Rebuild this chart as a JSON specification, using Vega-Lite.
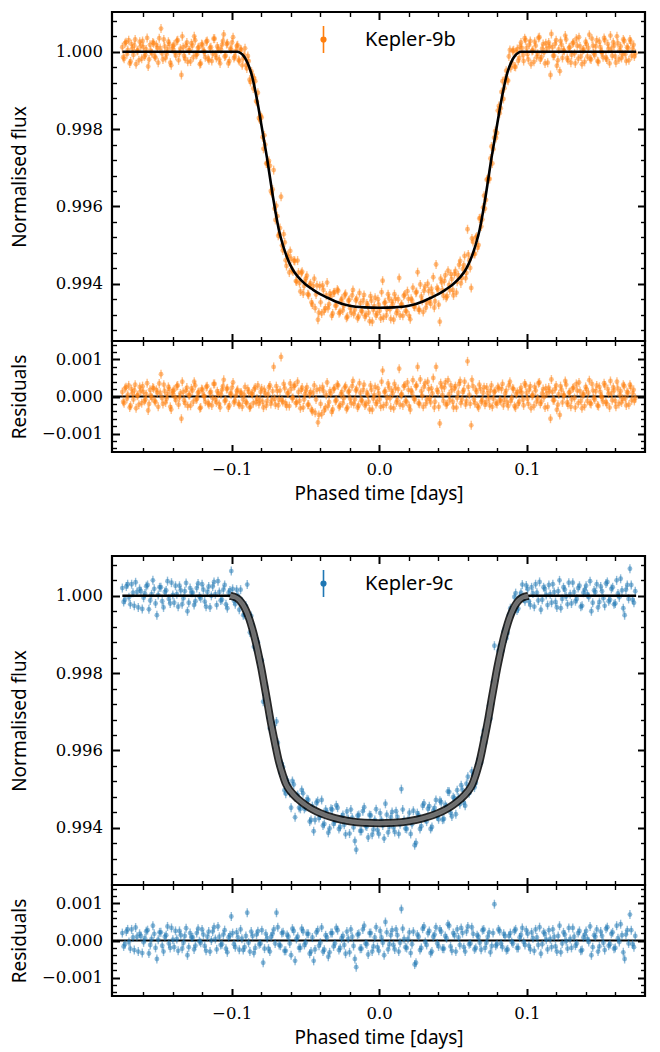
{
"$schema":"https://vega.github.io/schema/vega-lite/v6.json",
"background":"white",
"padding":{"left":8,"top":9,"right":10,"bottom":5},
"config":{
 "view":{"stroke":"black","strokeWidth":2.2},
 "axis":{"domain":false,"grid":false,"tickColor":"black","labelColor":"black","labelFont":"DejaVu Serif","labelFontSize":16.5,"titleFont":"Noto Sans","titleFontSize":19,"titleFontWeight":"normal","titleColor":"black","labelOverlap":false,"labelFlush":false,"labelBound":false},
 "legend":{"labelFont":"Noto Sans","labelFontSize":20,"labelColor":"black","padding":0}
},
"datasets":{
"z":[{"r":0}],
"mb":[{"t":-0.174,"m":1},{"t":-0.096,"m":1},{"t":-0.094,"m":0.99997},{"t":-0.092,"m":0.9999},{"t":-0.09,"m":0.99978},{"t":-0.088,"m":0.9996},{"t":-0.086,"m":0.99935},{"t":-0.084,"m":0.999},{"t":-0.082,"m":0.9986},{"t":-0.08,"m":0.99815},{"t":-0.078,"m":0.9977},{"t":-0.076,"m":0.99725},{"t":-0.074,"m":0.99675},{"t":-0.072,"m":0.99625},{"t":-0.07,"m":0.9958},{"t":-0.068,"m":0.9954},{"t":-0.066,"m":0.9951},{"t":-0.064,"m":0.99485},{"t":-0.062,"m":0.99464},{"t":-0.06,"m":0.99447},{"t":-0.058,"m":0.99433},{"t":-0.055,"m":0.99418},{"t":-0.05,"m":0.99399},{"t":-0.045,"m":0.99385},{"t":-0.04,"m":0.99373},{"t":-0.035,"m":0.99364},{"t":-0.03,"m":0.99355},{"t":-0.02,"m":0.99343},{"t":-0.01,"m":0.99339},{"t":0,"m":0.99338},{"t":0.01,"m":0.99339},{"t":0.02,"m":0.99343},{"t":0.03,"m":0.99355},{"t":0.035,"m":0.99364},{"t":0.04,"m":0.99373},{"t":0.045,"m":0.99385},{"t":0.05,"m":0.99399},{"t":0.055,"m":0.99418},{"t":0.058,"m":0.99433},{"t":0.06,"m":0.99447},{"t":0.062,"m":0.99464},{"t":0.064,"m":0.99485},{"t":0.066,"m":0.9951},{"t":0.068,"m":0.9954},{"t":0.07,"m":0.9958},{"t":0.072,"m":0.99625},{"t":0.074,"m":0.99675},{"t":0.076,"m":0.99725},{"t":0.078,"m":0.9977},{"t":0.08,"m":0.99815},{"t":0.082,"m":0.9986},{"t":0.084,"m":0.999},{"t":0.086,"m":0.99935},{"t":0.088,"m":0.9996},{"t":0.09,"m":0.99978},{"t":0.092,"m":0.9999},{"t":0.094,"m":0.99997},{"t":0.096,"m":1},{"t":0.174,"m":1}],
"mc":[{"t":-0.174,"m":1},{"t":-0.101,"m":1},{"t":-0.1,"m":0.99999},{"t":-0.098,"m":0.99997},{"t":-0.096,"m":0.99993},{"t":-0.094,"m":0.99986},{"t":-0.092,"m":0.99975},{"t":-0.09,"m":0.9996},{"t":-0.088,"m":0.9994},{"t":-0.086,"m":0.99915},{"t":-0.084,"m":0.99886},{"t":-0.082,"m":0.99852},{"t":-0.08,"m":0.99815},{"t":-0.078,"m":0.99773},{"t":-0.076,"m":0.9973},{"t":-0.074,"m":0.99685},{"t":-0.072,"m":0.99645},{"t":-0.07,"m":0.99607},{"t":-0.068,"m":0.99572},{"t":-0.066,"m":0.99545},{"t":-0.063,"m":0.99512},{"t":-0.06,"m":0.99494},{"t":-0.055,"m":0.99474},{"t":-0.05,"m":0.99459},{"t":-0.045,"m":0.99447},{"t":-0.04,"m":0.99438},{"t":-0.03,"m":0.99425},{"t":-0.02,"m":0.99417},{"t":-0.01,"m":0.99413},{"t":0,"m":0.99412},{"t":0.01,"m":0.99413},{"t":0.02,"m":0.99417},{"t":0.03,"m":0.99425},{"t":0.04,"m":0.99438},{"t":0.045,"m":0.99447},{"t":0.05,"m":0.99459},{"t":0.055,"m":0.99474},{"t":0.06,"m":0.99494},{"t":0.063,"m":0.99512},{"t":0.066,"m":0.99545},{"t":0.068,"m":0.99572},{"t":0.07,"m":0.99607},{"t":0.072,"m":0.99645},{"t":0.074,"m":0.99685},{"t":0.076,"m":0.9973},{"t":0.078,"m":0.99773},{"t":0.08,"m":0.99815},{"t":0.082,"m":0.99852},{"t":0.084,"m":0.99886},{"t":0.086,"m":0.99915},{"t":0.088,"m":0.9994},{"t":0.09,"m":0.9996},{"t":0.092,"m":0.99975},{"t":0.094,"m":0.99986},{"t":0.096,"m":0.99993},{"t":0.098,"m":0.99997},{"t":0.1,"m":0.99999},{"t":0.101,"m":1},{"t":0.174,"m":1}],
"b":[
{"t":-0.174,"f":1.00012,"r":0.00012},{"t":-0.1728,"f":0.99982,"r":-0.00018},{"t":-0.1715,"f":1.00025,"r":0.00025},{"t":-0.1703,"f":1.00005,"r":0.00005},{"t":-0.169,"f":0.9997,"r":-0.0003},{"t":-0.1678,"f":1.0002,"r":0.0002},{"t":-0.1665,"f":0.99992,"r":-0.00008},{"t":-0.1653,"f":1.00032,"r":0.00032},{"t":-0.164,"f":1.00002,"r":0.00002},{"t":-0.1628,"f":0.99978,"r":-0.00022},{"t":-0.1615,"f":1.00015,"r":0.00015},{"t":-0.1603,"f":1.00028,"r":0.00028},{"t":-0.159,"f":0.99988,"r":-0.00012},{"t":-0.1578,"f":1.00006,"r":0.00006},{"t":-0.1565,"f":0.99962,"r":-0.00038},{"t":-0.1553,"f":1.00018,"r":0.00018},{"t":-0.154,"f":0.99996,"r":-0.00004},{"t":-0.1528,"f":1.00022,"r":0.00022},{"t":-0.1515,"f":0.99985,"r":-0.00015},{"t":-0.1503,"f":1.0001,"r":0.0001},{"t":-0.149,"f":1.00035,"r":0.00035},{"t":-0.1478,"f":1.0006,"r":0.0006},{"t":-0.1465,"f":0.9998,"r":-0.0002},{"t":-0.1453,"f":1.00014,"r":0.00014},{"t":-0.144,"f":0.99994,"r":-0.00006},{"t":-0.1428,"f":1.00026,"r":0.00026},{"t":-0.1415,"f":0.99972,"r":-0.00028},{"t":-0.1403,"f":1.00008,"r":0.00008},{"t":-0.139,"f":1.00018,"r":0.00018},{"t":-0.1378,"f":0.9999,"r":-0.0001},{"t":-0.1365,"f":1.0003,"r":0.0003},{"t":-0.1353,"f":0.99997,"r":-0.00003},{"t":-0.134,"f":0.9994,"r":-0.0006},{"t":-0.1328,"f":1.00012,"r":0.00012},{"t":-0.1315,"f":0.99982,"r":-0.00018},{"t":-0.1303,"f":1.00024,"r":0.00024},{"t":-0.129,"f":1.00004,"r":0.00004},{"t":-0.1278,"f":0.99975,"r":-0.00025},{"t":-0.1265,"f":1.00016,"r":0.00016},{"t":-0.1253,"f":1.0004,"r":0.0004},{"t":-0.124,"f":0.99992,"r":-0.00008},{"t":-0.1228,"f":1.0001,"r":0.0001},{"t":-0.1215,"f":0.99968,"r":-0.00032},{"t":-0.1203,"f":1.0002,"r":0.0002},{"t":-0.119,"f":1.00002,"r":0.00002},{"t":-0.1178,"f":0.99986,"r":-0.00014},{"t":-0.1165,"f":1.00028,"r":0.00028},{"t":-0.1153,"f":0.99978,"r":-0.00022},{"t":-0.114,"f":1.00012,"r":0.00012},{"t":-0.1128,"f":0.99995,"r":-0.00005},{"t":-0.1115,"f":1.00034,"r":0.00034},{"t":-0.1103,"f":0.99984,"r":-0.00016},{"t":-0.109,"f":1.00008,"r":0.00008},{"t":-0.1078,"f":0.9997,"r":-0.0003},{"t":-0.1065,"f":1.00018,"r":0.00018},{"t":-0.1053,"f":1.00045,"r":0.00045},{"t":-0.104,"f":0.9999,"r":-0.0001},{"t":-0.1028,"f":1.00022,"r":0.00022},{"t":-0.1015,"f":0.99976,"r":-0.00024},{"t":-0.1003,"f":1.00006,"r":0.00006},{"t":-0.099,"f":1.00038,"r":0.00038},{"t":-0.0978,"f":0.99988,"r":-0.00012},{"t":-0.0965,"f":1.00015,"r":0.00015},
{"t":-0.0953,"f":0.99979,"r":-0.0002},{"t":-0.094,"f":1.00007,"r":0.0001},{"t":-0.0928,"f":0.99965,"r":-0.00028},{"t":-0.0915,"f":0.99992,"r":0.00005},{"t":-0.0903,"f":0.99965,"r":-0.00015},{"t":-0.089,"f":0.99989,"r":0.0002},{"t":-0.0878,"f":0.99928,"r":-0.0003},{"t":-0.0865,"f":0.99949,"r":0.00008},{"t":-0.0853,"f":0.99905,"r":-0.00018},{"t":-0.084,"f":0.99924,"r":0.00024},{"t":-0.0828,"f":0.9987,"r":-0.00006},{"t":-0.0815,"f":0.99829,"r":-0.0002},{"t":-0.0803,"f":0.99834,"r":0.00012},{"t":-0.079,"f":0.99779,"r":-0.00014},{"t":-0.0778,"f":0.99784,"r":0.00018},{"t":-0.0765,"f":0.99711,"r":-0.00025},{"t":-0.0753,"f":0.99714,"r":0.00006},{"t":-0.074,"f":0.99705,"r":0.0003},{"t":-0.0728,"f":0.99635,"r":-0.0001},{"t":-0.0715,"f":0.99694,"r":0.0008},{"t":-0.0703,"f":0.99565,"r":-0.00022},{"t":-0.069,"f":0.99575,"r":0.00015},{"t":-0.0678,"f":0.99529,"r":-0.00008},{"t":-0.0665,"f":0.99625,"r":0.00107},{"t":-0.0653,"f":0.99486,"r":-0.00015},{"t":-0.064,"f":0.99507,"r":0.00022},{"t":-0.0628,"f":0.99446,"r":-0.00026},{"t":-0.0615,"f":0.9947,"r":0.0001},{"t":-0.0603,"f":0.99485,"r":0.00035},{"t":-0.059,"f":0.99435,"r":-0.00005},{"t":-0.0578,"f":0.9946,"r":0.00028},{"t":-0.0565,"f":0.99407,"r":-0.00018},{"t":-0.0553,"f":0.9946,"r":0.0004},{"t":-0.054,"f":0.99402,"r":-0.00012},{"t":-0.0528,"f":0.99428,"r":0.00018},{"t":-0.0515,"f":0.99375,"r":-0.0003},{"t":-0.0503,"f":0.99406,"r":0.00006},{"t":-0.049,"f":0.99421,"r":0.00025},{"t":-0.0478,"f":0.99371,"r":-0.00022},{"t":-0.0465,"f":0.99401,"r":0.00012},{"t":-0.0453,"f":0.99346,"r":-0.0004},{"t":-0.044,"f":0.99413,"r":0.0003},{"t":-0.0428,"f":0.99372,"r":-0.00008},{"t":-0.0415,"f":0.99307,"r":-0.0007},{"t":-0.0403,"f":0.99394,"r":0.0002},{"t":-0.039,"f":0.99323,"r":-0.00048},{"t":-0.0378,"f":0.99384,"r":0.00015},{"t":-0.0365,"f":0.99337,"r":-0.0003},{"t":-0.0353,"f":0.99403,"r":0.00038},{"t":-0.034,"f":0.99347,"r":-0.00015},{"t":-0.0328,"f":0.99368,"r":0.00008},{"t":-0.0315,"f":0.99323,"r":-0.00035},{"t":-0.0303,"f":0.99378,"r":0.00022},{"t":-0.029,"f":0.99344,"r":-0.0001},{"t":-0.0278,"f":0.99382,"r":0.0003},{"t":-0.0265,"f":0.99327,"r":-0.00024},{"t":-0.0253,"f":0.99361,"r":0.00012},{"t":-0.024,"f":0.99343,"r":-0.00005},{"t":-0.0228,"f":0.99374,"r":0.00028},{"t":-0.0215,"f":0.99315,"r":-0.0003},{"t":-0.0203,"f":0.99358,"r":0.00015},{"t":-0.019,"f":0.99325,"r":-0.00018},{"t":-0.0178,"f":0.99384,"r":0.00042},{"t":-0.0165,"f":0.99333,"r":-0.00008},{"t":-0.0153,"f":0.99361,"r":0.0002},{"t":-0.014,"f":0.99315,"r":-0.00025},{"t":-0.0128,"f":0.9935,"r":0.0001},{"t":-0.0115,"f":0.99328,"r":-0.00012},{"t":-0.0103,"f":0.99371,"r":0.00032},{"t":-0.009,"f":0.99319,"r":-0.0002},{"t":-0.0078,"f":0.99344,"r":0.00005},{"t":-0.0065,"f":0.99303,"r":-0.00035},{"t":-0.0053,"f":0.99356,"r":0.00018},{"t":-0.004,"f":0.99332,"r":-0.00006},{"t":-0.0028,"f":0.99364,"r":0.00026},{"t":-0.0015,"f":0.99323,"r":-0.00015},{"t":-0.0003,"f":0.99346,"r":0.00008},{"t":0.001,"f":0.9931,"r":-0.00028},{"t":0.0023,"f":0.99408,"r":0.0007},{"t":0.0035,"f":0.9935,"r":0.00012},{"t":0.0048,"f":0.99318,"r":-0.0002},{"t":0.006,"f":0.99373,"r":0.00035},{"t":0.0073,"f":0.99334,"r":-0.00005},{"t":0.0085,"f":0.99355,"r":0.00016},{"t":0.0098,"f":0.99307,"r":-0.00032},{"t":0.011,"f":0.99361,"r":0.00022},{"t":0.0123,"f":0.9933,"r":-0.0001},{"t":0.0135,"f":0.99415,"r":0.00075},{"t":0.0148,"f":0.99345,"r":0.00004},{"t":0.016,"f":0.99317,"r":-0.00024},{"t":0.0173,"f":0.99372,"r":0.0003},{"t":0.0185,"f":0.99328,"r":-0.00014},{"t":0.0198,"f":0.99361,"r":0.00018},{"t":0.021,"f":0.99308,"r":-0.00036},{"t":0.0223,"f":0.99356,"r":0.0001},{"t":0.0235,"f":0.99341,"r":-0.00006},{"t":0.0248,"f":0.99377,"r":0.00028},{"t":0.026,"f":0.9943,"r":0.0008},{"t":0.0273,"f":0.99332,"r":-0.0002},{"t":0.0285,"f":0.99367,"r":0.00014},{"t":0.0298,"f":0.99327,"r":-0.00028},{"t":0.031,"f":0.99393,"r":0.00036},{"t":0.0323,"f":0.99351,"r":-0.00008},{"t":0.0335,"f":0.99381,"r":0.0002},{"t":0.0348,"f":0.99348,"r":-0.00016},{"t":0.036,"f":0.99374,"r":0.00008},{"t":0.0373,"f":0.99338,"r":-0.0003},{"t":0.0385,"f":0.9945,"r":0.0008},{"t":0.0398,"f":0.99385,"r":0.00012},{"t":0.041,"f":0.99302,"r":-0.00073},{"t":0.0423,"f":0.99403,"r":0.00025},{"t":0.0435,"f":0.99369,"r":-0.00012},{"t":0.0448,"f":0.99422,"r":0.00038},{"t":0.046,"f":0.99368,"r":-0.0002},{"t":0.0473,"f":0.99397,"r":0.00006},{"t":0.0485,"f":0.99425,"r":0.0003},{"t":0.0498,"f":0.99384,"r":-0.00014},{"t":0.051,"f":0.99425,"r":0.00022},{"t":0.0523,"f":0.99377,"r":-0.0003},{"t":0.0535,"f":0.99422,"r":0.0001},{"t":0.0548,"f":0.99459,"r":0.00042},{"t":0.056,"f":0.99415,"r":-0.00008},{"t":0.0573,"f":0.99448,"r":0.00018},{"t":0.0585,"f":0.99414,"r":-0.00022},{"t":0.0598,"f":0.99541,"r":0.00095},{"t":0.061,"f":0.9946,"r":0.00005},{"t":0.0623,"f":0.99389,"r":-0.00078},{"t":0.0635,"f":0.99508,"r":0.00028},{"t":0.0648,"f":0.99477,"r":-0.00018},{"t":0.066,"f":0.99522,"r":0.00012},{"t":0.0673,"f":0.995,"r":-0.0003},{"t":0.0685,"f":0.9957,"r":0.0002},{"t":0.0698,"f":0.99566,"r":-0.0001},{"t":0.071,"f":0.99628,"r":0.00025},{"t":0.0723,"f":0.99617,"r":-0.00016},{"t":0.0735,"f":0.99671,"r":0.00008},{"t":0.0748,"f":0.99671,"r":-0.00024},{"t":0.076,"f":0.99755,"r":0.0003},{"t":0.0773,"f":0.99748,"r":-0.00006},{"t":0.0785,"f":0.99795,"r":0.00014},{"t":0.0798,"f":0.9979,"r":-0.0002},{"t":0.081,"f":0.9986,"r":0.00022},{"t":0.0823,"f":0.99854,"r":-0.00012},{"t":0.0835,"f":0.99924,"r":0.00034},{"t":0.0848,"f":0.99906,"r":-0.00008},{"t":0.086,"f":0.99951,"r":0.00016},{"t":0.0873,"f":0.99925,"r":-0.00026},{"t":0.0885,"f":1.00005,"r":0.0004},{"t":0.0898,"f":0.99972,"r":-0.00004},{"t":0.091,"f":1.00004,"r":0.0002},{"t":0.0923,"f":0.99961,"r":-0.0003},{"t":0.0935,"f":1.00007,"r":0.00012},{"t":0.0948,"f":0.99984,"r":-0.00014},{"t":0.096,"f":1.00024,"r":0.00024},
{"t":0.0973,"f":0.99992,"r":-0.00008},{"t":0.0985,"f":1.00035,"r":0.00035},{"t":0.0998,"f":1.0001,"r":0.0001},{"t":0.101,"f":0.9998,"r":-0.0002},{"t":0.1023,"f":1.00028,"r":0.00028},{"t":0.1035,"f":1.00002,"r":0.00002},{"t":0.1048,"f":0.99974,"r":-0.00026},{"t":0.106,"f":1.00016,"r":0.00016},{"t":0.1073,"f":0.99995,"r":-0.00005},{"t":0.1085,"f":1.00038,"r":0.00038},{"t":0.1098,"f":0.99986,"r":-0.00014},{"t":0.111,"f":1.0002,"r":0.0002},{"t":0.1123,"f":0.9997,"r":-0.0003},{"t":0.1135,"f":1.00008,"r":0.00008},{"t":0.1148,"f":1.00024,"r":0.00024},{"t":0.116,"f":0.9994,"r":-0.0006},{"t":0.1173,"f":1.00012,"r":0.00012},{"t":0.1185,"f":0.9999,"r":-0.0001},{"t":0.1198,"f":1.0003,"r":0.0003},{"t":0.121,"f":0.99978,"r":-0.00022},{"t":0.1223,"f":0.9995,"r":-0.0005},{"t":0.1235,"f":1.00018,"r":0.00018},{"t":0.1248,"f":1.00004,"r":0.00004},{"t":0.126,"f":1.00042,"r":0.00042},{"t":0.1273,"f":0.99984,"r":-0.00016},{"t":0.1285,"f":1.0001,"r":0.0001},{"t":0.1298,"f":0.99972,"r":-0.00028},{"t":0.131,"f":1.00022,"r":0.00022},{"t":0.1323,"f":0.99996,"r":-0.00004},{"t":0.1335,"f":1.00034,"r":0.00034},{"t":0.1348,"f":0.99982,"r":-0.00018},{"t":0.136,"f":1.00014,"r":0.00014},{"t":0.1373,"f":0.99968,"r":-0.00032},{"t":0.1385,"f":1.00006,"r":0.00006},{"t":0.1398,"f":1.00026,"r":0.00026},{"t":0.141,"f":0.99988,"r":-0.00012},{"t":0.1423,"f":1.00044,"r":0.00044},{"t":0.1435,"f":0.9998,"r":-0.0002},{"t":0.1448,"f":1.00016,"r":0.00016},{"t":0.146,"f":0.99992,"r":-0.00008},{"t":0.1473,"f":1.0003,"r":0.0003},{"t":0.1485,"f":0.99974,"r":-0.00026},{"t":0.1498,"f":1.00012,"r":0.00012},{"t":0.151,"f":0.99998,"r":-0.00002},{"t":0.1523,"f":1.00036,"r":0.00036},{"t":0.1535,"f":0.99985,"r":-0.00015},{"t":0.1548,"f":1.0002,"r":0.0002},{"t":0.156,"f":0.9997,"r":-0.0003},{"t":0.1573,"f":1.00008,"r":0.00008},{"t":0.1585,"f":1.00025,"r":0.00025},{"t":0.1598,"f":0.99988,"r":-0.00012},{"t":0.161,"f":1.0004,"r":0.0004},{"t":0.1623,"f":0.9998,"r":-0.0002},{"t":0.1635,"f":1.00014,"r":0.00014},{"t":0.1648,"f":0.99994,"r":-0.00006},{"t":0.166,"f":1.00028,"r":0.00028},{"t":0.1673,"f":0.99976,"r":-0.00024},{"t":0.1685,"f":1.0001,"r":0.0001},{"t":0.1698,"f":1.00032,"r":0.00032},{"t":0.171,"f":0.9999,"r":-0.0001},{"t":0.1723,"f":1.00018,"r":0.00018},{"t":0.1735,"f":0.99996,"r":-0.00004},
{"t":-0.1734,"f":0.99986,"r":-0.00014},{"t":-0.1722,"f":1.00022,"r":0.00022},{"t":-0.1709,"f":0.99994,"r":-0.00006},{"t":-0.1697,"f":1.0003,"r":0.0003},{"t":-0.1684,"f":0.99975,"r":-0.00025},{"t":-0.1672,"f":1.00008,"r":0.00008},{"t":-0.1659,"f":1.00016,"r":0.00016},{"t":-0.1647,"f":0.99968,"r":-0.00032},{"t":-0.1634,"f":1.00004,"r":0.00004},{"t":-0.1622,"f":1.00026,"r":0.00026},{"t":-0.1609,"f":0.99982,"r":-0.00018},{"t":-0.1597,"f":1.00012,"r":0.00012},{"t":-0.1584,"f":0.99992,"r":-0.00008},{"t":-0.1572,"f":1.00036,"r":0.00036},{"t":-0.1559,"f":0.9998,"r":-0.0002},{"t":-0.1547,"f":1.00002,"r":0.00002},{"t":-0.1534,"f":1.00024,"r":0.00024},{"t":-0.1522,"f":0.99988,"r":-0.00012},{"t":-0.1509,"f":1.00018,"r":0.00018},{"t":-0.1497,"f":0.99972,"r":-0.00028},{"t":-0.1484,"f":1.0001,"r":0.0001},{"t":-0.1472,"f":0.99996,"r":-0.00004},{"t":-0.1459,"f":1.00032,"r":0.00032},{"t":-0.1447,"f":0.99984,"r":-0.00016},{"t":-0.1434,"f":1.00006,"r":0.00006},{"t":-0.1422,"f":1.0002,"r":0.0002},{"t":-0.1409,"f":0.99965,"r":-0.00035},{"t":-0.1397,"f":1.00014,"r":0.00014},{"t":-0.1384,"f":0.99998,"r":-0.00002},{"t":-0.1372,"f":1.00028,"r":0.00028},{"t":-0.1359,"f":0.99978,"r":-0.00022},{"t":-0.1347,"f":1.00008,"r":0.00008},{"t":-0.1334,"f":1.0004,"r":0.0004},{"t":-0.1322,"f":0.9999,"r":-0.0001},{"t":-0.1309,"f":1.00016,"r":0.00016},{"t":-0.1297,"f":0.99974,"r":-0.00026},{"t":-0.1284,"f":1.00004,"r":0.00004},{"t":-0.1272,"f":1.00022,"r":0.00022},{"t":-0.1259,"f":0.99986,"r":-0.00014},{"t":-0.1247,"f":1.0003,"r":0.0003},{"t":-0.1234,"f":0.99994,"r":-0.00006},{"t":-0.1222,"f":1.00012,"r":0.00012},{"t":-0.1209,"f":0.9997,"r":-0.0003},{"t":-0.1197,"f":1.00018,"r":0.00018},{"t":-0.1184,"f":1,"r":0},{"t":-0.1172,"f":1.00026,"r":0.00026},{"t":-0.1159,"f":0.99982,"r":-0.00018},{"t":-0.1147,"f":1.0001,"r":0.0001},{"t":-0.1134,"f":0.99976,"r":-0.00024},{"t":-0.1122,"f":1.00034,"r":0.00034},{"t":-0.1109,"f":0.99992,"r":-0.00008},{"t":-0.1097,"f":1.00014,"r":0.00014},{"t":-0.1084,"f":0.9998,"r":-0.0002},{"t":-0.1072,"f":1.00006,"r":0.00006},{"t":-0.1059,"f":1.00028,"r":0.00028},{"t":-0.1047,"f":0.99988,"r":-0.00012},{"t":-0.1034,"f":1.0002,"r":0.0002},{"t":-0.1022,"f":0.9997,"r":-0.0003},{"t":-0.1009,"f":1.00008,"r":0.00008},{"t":-0.0997,"f":1.00024,"r":0.00024},{"t":-0.0984,"f":0.99984,"r":-0.00016},{"t":-0.0972,"f":1.00002,"r":0.00002},
{"t":-0.0959,"f":1.00017,"r":0.00018},{"t":-0.0947,"f":0.99976,"r":-0.00022},{"t":-0.0934,"f":1.00005,"r":0.0001},{"t":-0.0922,"f":0.99983,"r":-0.00008},{"t":-0.0909,"f":1.00009,"r":0.00026},{"t":-0.0897,"f":0.99957,"r":-0.00018},{"t":-0.0884,"f":0.99976,"r":0.00012},{"t":-0.0872,"f":0.99922,"r":-0.00028},{"t":-0.0859,"f":0.99939,"r":0.00006},{"t":-0.0847,"f":0.99932,"r":0.0002},{"t":-0.0834,"f":0.99873,"r":-0.00015},{"t":-0.0822,"f":0.99894,"r":0.0003},{"t":-0.0809,"f":0.99825,"r":-0.0001},{"t":-0.0797,"f":0.9983,"r":0.00022},{"t":-0.0784,"f":0.99749,"r":-0.0003},{"t":-0.0772,"f":0.9976,"r":0.00008},{"t":-0.0759,"f":0.99711,"r":-0.00012},{"t":-0.0747,"f":0.99718,"r":0.00025},{"t":-0.0734,"f":0.9964,"r":-0.0002},{"t":-0.0722,"f":0.99644,"r":0.00014},{"t":-0.0709,"f":0.99594,"r":-0.00006},{"t":-0.0697,"f":0.99602,"r":0.00028},{"t":-0.0684,"f":0.99524,"r":-0.00024},{"t":-0.0672,"f":0.99544,"r":0.00016},{"t":-0.0659,"f":0.99499,"r":-0.0001},{"t":-0.0647,"f":0.99528,"r":0.00034},{"t":-0.0634,"f":0.99461,"r":-0.00018},{"t":-0.0622,"f":0.99474,"r":0.00008},{"t":-0.0609,"f":0.99429,"r":-0.00026},{"t":-0.0597,"f":0.99465,"r":0.0002},{"t":-0.0584,"f":0.99432,"r":-0.00004},{"t":-0.0572,"f":0.99459,"r":0.0003},{"t":-0.0559,"f":0.99406,"r":-0.00016},{"t":-0.0547,"f":0.99429,"r":0.00012},{"t":-0.0534,"f":0.9938,"r":-0.00032},{"t":-0.0522,"f":0.99431,"r":0.00024},{"t":-0.0509,"f":0.99394,"r":-0.00008},{"t":-0.0497,"f":0.99414,"r":0.00016},{"t":-0.0484,"f":0.99373,"r":-0.00022},{"t":-0.0472,"f":0.99397,"r":0.00006},{"t":-0.0459,"f":0.99352,"r":-0.00036},{"t":-0.0447,"f":0.99394,"r":0.0001},{"t":-0.0434,"f":0.99337,"r":-0.00044},{"t":-0.0422,"f":0.99396,"r":0.00018},{"t":-0.0409,"f":0.99325,"r":-0.0005},{"t":-0.0397,"f":0.99352,"r":-0.0002},{"t":-0.0384,"f":0.99396,"r":0.00026},{"t":-0.0372,"f":0.9933,"r":-0.00038},{"t":-0.0359,"f":0.9937,"r":0.00004},{"t":-0.0347,"f":0.99337,"r":-0.00026},{"t":-0.0334,"f":0.99375,"r":0.00014},{"t":-0.0322,"f":0.99317,"r":-0.00042},{"t":-0.0309,"f":0.99377,"r":0.0002},{"t":-0.0297,"f":0.99343,"r":-0.00012},{"t":-0.0284,"f":0.99385,"r":0.00032},{"t":-0.0272,"f":0.99324,"r":-0.00028},{"t":-0.0259,"f":0.99356,"r":0.00006},{"t":-0.0247,"f":0.99331,"r":-0.00018},{"t":-0.0234,"f":0.99371,"r":0.00024},{"t":-0.0222,"f":0.99312,"r":-0.00034},{"t":-0.0209,"f":0.99356,"r":0.00012},{"t":-0.0197,"f":0.99337,"r":-0.00006},{"t":-0.0184,"f":0.9937,"r":0.00028},{"t":-0.0172,"f":0.99322,"r":-0.0002},{"t":-0.0159,"f":0.99357,"r":0.00016},{"t":-0.0147,"f":0.99311,"r":-0.0003},{"t":-0.0134,"f":0.99376,"r":0.00036},{"t":-0.0122,"f":0.9933,"r":-0.0001},{"t":-0.0109,"f":0.99357,"r":0.00018},{"t":-0.0097,"f":0.99315,"r":-0.00024},{"t":-0.0084,"f":0.99349,"r":0.0001},{"t":-0.0072,"f":0.99325,"r":-0.00014},{"t":-0.0059,"f":0.99368,"r":0.0003},{"t":-0.0047,"f":0.99302,"r":-0.00036},{"t":-0.0034,"f":0.99342,"r":0.00004},{"t":-0.0022,"f":0.99318,"r":-0.0002},{"t":-0.0009,"f":0.9936,"r":0.00022},{"t":0.0003,"f":0.9933,"r":-0.00008},{"t":0.0016,"f":0.99378,"r":0.0004},{"t":0.0028,"f":0.99312,"r":-0.00026},{"t":0.0041,"f":0.99352,"r":0.00014},{"t":0.0053,"f":0.99334,"r":-0.00004},{"t":0.0066,"f":0.99362,"r":0.00024},{"t":0.0078,"f":0.99309,"r":-0.0003},{"t":0.0091,"f":0.99347,"r":0.00008},{"t":0.0103,"f":0.99373,"r":0.00034},{"t":0.0116,"f":0.99324,"r":-0.00016},{"t":0.0128,"f":0.9936,"r":0.0002},{"t":0.0141,"f":0.99318,"r":-0.00022},{"t":0.0153,"f":0.99347,"r":0.00006},{"t":0.0166,"f":0.99369,"r":0.00028},{"t":0.0178,"f":0.9933,"r":-0.00012},{"t":0.0191,"f":0.99381,"r":0.00038},{"t":0.0203,"f":0.99317,"r":-0.00026},{"t":0.0216,"f":0.99361,"r":0.00016},{"t":0.0228,"f":0.9939,"r":0.00044},{"t":0.0241,"f":0.9934,"r":-0.00008},{"t":0.0253,"f":0.99379,"r":0.0003},{"t":0.0266,"f":0.99333,"r":-0.00018},{"t":0.0278,"f":0.99398,"r":0.00046},{"t":0.0291,"f":0.99356,"r":0.00002},{"t":0.0303,"f":0.99382,"r":0.00026},{"t":0.0316,"f":0.99338,"r":-0.0002},{"t":0.0328,"f":0.994,"r":0.0004},{"t":0.0341,"f":0.99356,"r":-0.00006},{"t":0.0353,"f":0.99387,"r":0.00022},{"t":0.0366,"f":0.99417,"r":0.0005},{"t":0.0378,"f":0.99355,"r":-0.00014},{"t":0.0391,"f":0.99389,"r":0.00018},{"t":0.0403,"f":0.99346,"r":-0.00028},{"t":0.0416,"f":0.99413,"r":0.00036},{"t":0.0428,"f":0.99384,"r":0.00004},{"t":0.0441,"f":0.99407,"r":0.00024},{"t":0.0453,"f":0.99364,"r":-0.00022},{"t":0.0466,"f":0.99434,"r":0.00044},{"t":0.0478,"f":0.99383,"r":-0.0001},{"t":0.0491,"f":0.99412,"r":0.00016},{"t":0.0503,"f":0.9937,"r":-0.0003},{"t":0.0516,"f":0.99433,"r":0.00028},{"t":0.0528,"f":0.99405,"r":-0.00004},{"t":0.0541,"f":0.99449,"r":0.00034},{"t":0.0553,"f":0.99401,"r":-0.00018},{"t":0.0566,"f":0.99438,"r":0.00012},{"t":0.0578,"f":0.99472,"r":0.0004},{"t":0.0591,"f":0.99428,"r":-0.00012},{"t":0.0603,"f":0.99476,"r":0.00026},{"t":0.0616,"f":0.99441,"r":-0.0002},{"t":0.0628,"f":0.99517,"r":0.00045},{"t":0.0641,"f":0.99478,"r":-0.00008},{"t":0.0653,"f":0.99519,"r":0.00018},{"t":0.0666,"f":0.99493,"r":-0.00026},{"t":0.0678,"f":0.99569,"r":0.00032},{"t":0.0691,"f":0.99548,"r":-0.00014},{"t":0.0703,"f":0.99597,"r":0.0001},{"t":0.0716,"f":0.99594,"r":-0.00022},{"t":0.0728,"f":0.99669,"r":0.00024},{"t":0.0741,"f":0.99672,"r":-0.00006},{"t":0.0753,"f":0.99724,"r":0.00016},{"t":0.0766,"f":0.99711,"r":-0.00028},{"t":0.0778,"f":0.99778,"r":0.00012},{"t":0.0791,"f":0.99777,"r":-0.00018},{"t":0.0803,"f":0.99848,"r":0.00026},{"t":0.0816,"f":0.99841,"r":-0.0001},{"t":0.0828,"f":0.99896,"r":0.0002},{"t":0.0841,"f":0.99878,"r":-0.00024},{"t":0.0853,"f":0.99931,"r":0.00008},{"t":0.0866,"f":0.99927,"r":-0.00016},{"t":0.0878,"f":0.99988,"r":0.0003},{"t":0.0891,"f":0.99958,"r":-0.00012},{"t":0.0903,"f":1.00002,"r":0.00022},{"t":0.0916,"f":0.99962,"r":-0.00026},{"t":0.0928,"f":0.99999,"r":0.00006},{"t":0.0941,"f":0.99977,"r":-0.0002},{"t":0.0953,"f":1.00013,"r":0.00014},
{"t":0.0966,"f":1.0001,"r":0.0001},{"t":0.0978,"f":0.99976,"r":-0.00024},{"t":0.0991,"f":1.0003,"r":0.0003},{"t":0.1003,"f":0.99994,"r":-0.00006},{"t":0.1016,"f":1.00018,"r":0.00018},{"t":0.1028,"f":0.99968,"r":-0.00032},{"t":0.1041,"f":1.00004,"r":0.00004},{"t":0.1053,"f":1.00026,"r":0.00026},{"t":0.1066,"f":0.99986,"r":-0.00014},{"t":0.1078,"f":1.00036,"r":0.00036},{"t":0.1091,"f":0.9998,"r":-0.0002},{"t":0.1103,"f":1.00008,"r":0.00008},{"t":0.1116,"f":0.99998,"r":-0.00002},{"t":0.1128,"f":1.00022,"r":0.00022},{"t":0.1141,"f":0.99972,"r":-0.00028},{"t":0.1153,"f":1.00014,"r":0.00014},{"t":0.1166,"f":1.00046,"r":0.00046},{"t":0.1178,"f":0.9999,"r":-0.0001},{"t":0.1191,"f":1.0002,"r":0.0002},{"t":0.1203,"f":0.99964,"r":-0.00036},{"t":0.1216,"f":1.00006,"r":0.00006},{"t":0.1228,"f":1.00028,"r":0.00028},{"t":0.1241,"f":0.99984,"r":-0.00016},{"t":0.1253,"f":1.00002,"r":0.00002},{"t":0.1266,"f":1.00032,"r":0.00032},{"t":0.1278,"f":0.99978,"r":-0.00022},{"t":0.1291,"f":1.00012,"r":0.00012},{"t":0.1303,"f":0.99992,"r":-0.00008},{"t":0.1316,"f":1.00024,"r":0.00024},{"t":0.1328,"f":0.9997,"r":-0.0003},{"t":0.1341,"f":1.00016,"r":0.00016},{"t":0.1353,"f":1.00038,"r":0.00038},{"t":0.1366,"f":0.99988,"r":-0.00012},{"t":0.1378,"f":1.00004,"r":0.00004},{"t":0.1391,"f":0.99974,"r":-0.00026},{"t":0.1403,"f":1.0002,"r":0.0002},{"t":0.1416,"f":1.0001,"r":0.0001},{"t":0.1428,"f":0.99982,"r":-0.00018},{"t":0.1441,"f":1.00034,"r":0.00034},{"t":0.1453,"f":0.99996,"r":-0.00004},{"t":0.1466,"f":1.00014,"r":0.00014},{"t":0.1478,"f":0.99976,"r":-0.00024},{"t":0.1491,"f":1.00026,"r":0.00026},{"t":0.1503,"f":1,"r":0},{"t":0.1516,"f":0.99986,"r":-0.00014},{"t":0.1528,"f":1.0003,"r":0.0003},{"t":0.1541,"f":0.9998,"r":-0.0002},{"t":0.1553,"f":1.00008,"r":0.00008},{"t":0.1566,"f":1.00042,"r":0.00042},{"t":0.1578,"f":0.9999,"r":-0.0001},{"t":0.1591,"f":1.00016,"r":0.00016},{"t":0.1603,"f":0.99972,"r":-0.00028},{"t":0.1616,"f":1.00022,"r":0.00022},{"t":0.1628,"f":1.00004,"r":0.00004},{"t":0.1641,"f":0.99984,"r":-0.00016},{"t":0.1653,"f":1.00032,"r":0.00032},{"t":0.1666,"f":0.99994,"r":-0.00006},{"t":0.1678,"f":1.00012,"r":0.00012},{"t":0.1691,"f":0.99978,"r":-0.00022},{"t":0.1703,"f":1.00026,"r":0.00026},{"t":0.1716,"f":1.00008,"r":0.00008},{"t":0.1728,"f":0.99988,"r":-0.00012}
],
"c":[
{"t":-0.174,"f":1.0002,"r":0.0002},{"t":-0.1722,"f":0.9999,"r":-0.0001},{"t":-0.1704,"f":1.0003,"r":0.0003},{"t":-0.1686,"f":0.99978,"r":-0.00022},{"t":-0.1668,"f":1.00008,"r":0.00008},{"t":-0.165,"f":1.00035,"r":0.00035},{"t":-0.1632,"f":0.9997,"r":-0.0003},{"t":-0.1614,"f":1.00012,"r":0.00012},{"t":-0.1596,"f":0.99995,"r":-0.00005},{"t":-0.1578,"f":1.00025,"r":0.00025},{"t":-0.156,"f":0.99965,"r":-0.00035},{"t":-0.1542,"f":1.00004,"r":0.00004},{"t":-0.1524,"f":1.00018,"r":0.00018},{"t":-0.1506,"f":0.9995,"r":-0.0005},{"t":-0.1488,"f":1.00022,"r":0.00022},{"t":-0.147,"f":0.99986,"r":-0.00014},{"t":-0.1452,"f":1.0001,"r":0.0001},{"t":-0.1434,"f":1.00038,"r":0.00038},{"t":-0.1416,"f":0.9998,"r":-0.0002},{"t":-0.1398,"f":1.00002,"r":0.00002},{"t":-0.138,"f":1.00026,"r":0.00026},{"t":-0.1362,"f":0.99972,"r":-0.00028},{"t":-0.1344,"f":1.00014,"r":0.00014},{"t":-0.1326,"f":0.99994,"r":-0.00006},{"t":-0.1308,"f":1.00033,"r":0.00033},{"t":-0.129,"f":0.99982,"r":-0.00018},{"t":-0.1272,"f":1.00008,"r":0.00008},{"t":-0.1254,"f":0.99976,"r":-0.00024},{"t":-0.1236,"f":1.0002,"r":0.0002},{"t":-0.1218,"f":0.99998,"r":-0.00002},{"t":-0.12,"f":1.0003,"r":0.0003},{"t":-0.1182,"f":0.99985,"r":-0.00015},{"t":-0.1164,"f":1.0001,"r":0.0001},{"t":-0.1146,"f":0.9997,"r":-0.0003},{"t":-0.1128,"f":1.00024,"r":0.00024},{"t":-0.111,"f":1.00004,"r":0.00004},{"t":-0.1092,"f":1.00038,"r":0.00038},{"t":-0.1074,"f":0.99988,"r":-0.00012},{"t":-0.1056,"f":1.00016,"r":0.00016},{"t":-0.1038,"f":0.99978,"r":-0.00022},{"t":-0.102,"f":1.00008,"r":0.00008},
{"t":-0.1002,"f":1.00064,"r":0.00065},{"t":-0.0984,"f":0.99987,"r":-0.0001},{"t":-0.0966,"f":1.00016,"r":0.00022},{"t":-0.0948,"f":0.99964,"r":-0.00025},{"t":-0.093,"f":0.99985,"r":0.00005},{"t":-0.0912,"f":0.99951,"r":-0.00018},{"t":-0.0894,"f":1.00029,"r":0.00075},{"t":-0.0876,"f":0.99905,"r":-0.0003},{"t":-0.0858,"f":0.99924,"r":0.00012},{"t":-0.084,"f":0.99866,"r":-0.0002},{"t":-0.0822,"f":0.9988,"r":0.00025},{"t":-0.0804,"f":0.99814,"r":-0.00008},{"t":-0.0786,"f":0.99726,"r":-0.0006},{"t":-0.0768,"f":0.99765,"r":0.00018},{"t":-0.075,"f":0.99686,"r":-0.00022},{"t":-0.0732,"f":0.99679,"r":0.0001},{"t":-0.0714,"f":0.99663,"r":0.0003},{"t":-0.0696,"f":0.99675,"r":0.00075},{"t":-0.0678,"f":0.99564,"r":-0.00012},{"t":-0.066,"f":0.99565,"r":0.0002},{"t":-0.0642,"f":0.99497,"r":-0.00028},{"t":-0.0624,"f":0.99523,"r":0.00015},{"t":-0.0606,"f":0.9949,"r":-0.00008},{"t":-0.0588,"f":0.99521,"r":0.00032},{"t":-0.057,"f":0.99427,"r":-0.00055},{"t":-0.0552,"f":0.99485,"r":0.0001},{"t":-0.0534,"f":0.99449,"r":-0.0002},{"t":-0.0516,"f":0.99489,"r":0.00025},{"t":-0.0498,"f":0.99453,"r":-0.00006},{"t":-0.048,"f":0.99472,"r":0.00018},{"t":-0.0462,"f":0.9942,"r":-0.0003},{"t":-0.0444,"f":0.99391,"r":-0.00055},{"t":-0.0426,"f":0.99465,"r":0.00022},{"t":-0.0408,"f":0.99425,"r":-0.00014},{"t":-0.039,"f":0.99472,"r":0.00035},{"t":-0.0372,"f":0.9941,"r":-0.00025},{"t":-0.0354,"f":0.9944,"r":0.00008},{"t":-0.0336,"f":0.99398,"r":-0.00032},{"t":-0.0318,"f":0.99447,"r":0.0002},{"t":-0.03,"f":0.99417,"r":-0.00008},{"t":-0.0282,"f":0.99452,"r":0.00028},{"t":-0.0264,"f":0.99402,"r":-0.0002},{"t":-0.0246,"f":0.99433,"r":0.00012},{"t":-0.0228,"f":0.99383,"r":-0.00036},{"t":-0.021,"f":0.99423,"r":0.00005},{"t":-0.0192,"f":0.99447,"r":0.0003},{"t":-0.0174,"f":0.99401,"r":-0.00015},{"t":-0.0156,"f":0.99343,"r":-0.00072},{"t":-0.0138,"f":0.99433,"r":0.00018},{"t":-0.012,"f":0.99392,"r":-0.00022},{"t":-0.0102,"f":0.99453,"r":0.0004},{"t":-0.0084,"f":0.99403,"r":-0.0001},{"t":-0.0066,"f":0.99433,"r":0.0002},{"t":-0.0048,"f":0.99382,"r":-0.0003},{"t":-0.003,"f":0.9942,"r":0.00008},{"t":-0.0012,"f":0.99394,"r":-0.00018},{"t":0.0006,"f":0.99438,"r":0.00026},{"t":0.0024,"f":0.99406,"r":-0.00006},{"t":0.0042,"f":0.99462,"r":0.0005},{"t":0.006,"f":0.99388,"r":-0.00024},{"t":0.0078,"f":0.99427,"r":0.00014},{"t":0.0096,"f":0.99401,"r":-0.00012},{"t":0.0114,"f":0.99443,"r":0.0003},{"t":0.0132,"f":0.99384,"r":-0.0003},{"t":0.015,"f":0.995,"r":0.00085},{"t":0.0168,"f":0.9942,"r":0.00004},{"t":0.0186,"f":0.99397,"r":-0.0002},{"t":0.0204,"f":0.99439,"r":0.00022},{"t":0.0222,"f":0.99409,"r":-0.0001},{"t":0.024,"f":0.99355,"r":-0.00065},{"t":0.0258,"f":0.99438,"r":0.00016},{"t":0.0276,"f":0.99397,"r":-0.00026},{"t":0.0294,"f":0.99457,"r":0.00032},{"t":0.0312,"f":0.99423,"r":-0.00004},{"t":0.033,"f":0.99449,"r":0.0002},{"t":0.0348,"f":0.99397,"r":-0.00034},{"t":0.0366,"f":0.99444,"r":0.0001},{"t":0.0384,"f":0.99472,"r":0.00036},{"t":0.0402,"f":0.99422,"r":-0.00016},{"t":0.042,"f":0.99466,"r":0.00024},{"t":0.0438,"f":0.99423,"r":-0.00022},{"t":0.0456,"f":0.99454,"r":0.00006},{"t":0.0474,"f":0.99493,"r":0.0004},{"t":0.0492,"f":0.99429,"r":-0.00028},{"t":0.051,"f":0.99476,"r":0.00014},{"t":0.0528,"f":0.99497,"r":0.0003},{"t":0.0546,"f":0.99461,"r":-0.00012},{"t":0.0564,"f":0.99498,"r":0.0002},{"t":0.0582,"f":0.99457,"r":-0.0003},{"t":0.06,"f":0.99532,"r":0.00038},{"t":0.0618,"f":0.99497,"r":-0.00008},{"t":0.0636,"f":0.99536,"r":0.00018},{"t":0.0654,"f":0.99516,"r":-0.0002},{"t":0.0672,"f":0.99576,"r":0.0001},{"t":0.069,"f":0.99568,"r":-0.00025},{"t":0.0708,"f":0.99651,"r":0.0003},{"t":0.0726,"f":0.99651,"r":-0.00006},{"t":0.0744,"f":0.99716,"r":0.00022},{"t":0.0762,"f":0.99719,"r":-0.00015},{"t":0.078,"f":0.99871,"r":0.00098},{"t":0.0798,"f":0.99801,"r":-0.0001},{"t":0.0816,"f":0.99871,"r":0.00026},{"t":0.0834,"f":0.99858,"r":-0.00018},{"t":0.0852,"f":0.99915,"r":0.00012},{"t":0.087,"f":0.99904,"r":-0.00024},{"t":0.0888,"f":0.99968,"r":0.0002},{"t":0.0906,"f":0.99957,"r":-0.00008},{"t":0.0924,"f":1.00007,"r":0.0003},{"t":0.0942,"f":0.99967,"r":-0.0002},{"t":0.096,"f":1.00008,"r":0.00015},{"t":0.0978,"f":0.99993,"r":-0.00004},{"t":0.0996,"f":1.00027,"r":0.00028},
{"t":0.1014,"f":0.99986,"r":-0.00014},{"t":0.1032,"f":1.00022,"r":0.00022},{"t":0.105,"f":0.99972,"r":-0.00028},{"t":0.1068,"f":1.00008,"r":0.00008},{"t":0.1086,"f":1.00036,"r":0.00036},{"t":0.1104,"f":0.9999,"r":-0.0001},{"t":0.1122,"f":1.00018,"r":0.00018},{"t":0.114,"f":0.99976,"r":-0.00024},{"t":0.1158,"f":1.00004,"r":0.00004},{"t":0.1176,"f":1.0003,"r":0.0003},{"t":0.1194,"f":0.99984,"r":-0.00016},{"t":0.1212,"f":1.00012,"r":0.00012},{"t":0.123,"f":0.99968,"r":-0.00032},{"t":0.1248,"f":1.00022,"r":0.00022},{"t":0.1266,"f":0.99998,"r":-0.00002},{"t":0.1284,"f":1.00034,"r":0.00034},{"t":0.1302,"f":0.9998,"r":-0.0002},{"t":0.132,"f":1.0001,"r":0.0001},{"t":0.1338,"f":0.99992,"r":-0.00008},{"t":0.1356,"f":1.00026,"r":0.00026},{"t":0.1374,"f":0.99974,"r":-0.00026},{"t":0.1392,"f":1.00016,"r":0.00016},{"t":0.141,"f":1.00004,"r":0.00004},{"t":0.1428,"f":1.00038,"r":0.00038},{"t":0.1446,"f":0.99982,"r":-0.00018},{"t":0.1464,"f":1.0001,"r":0.0001},{"t":0.1482,"f":0.9997,"r":-0.0003},{"t":0.15,"f":1.00024,"r":0.00024},{"t":0.1518,"f":0.99994,"r":-0.00006},{"t":0.1536,"f":1.00032,"r":0.00032},{"t":0.1554,"f":0.99986,"r":-0.00014},{"t":0.1572,"f":1.00018,"r":0.00018},{"t":0.159,"f":0.99978,"r":-0.00022},{"t":0.1608,"f":1.0004,"r":0.0004},{"t":0.1626,"f":0.99996,"r":-0.00004},{"t":0.1644,"f":1.00014,"r":0.00014},{"t":0.1662,"f":0.9995,"r":-0.0005},{"t":0.168,"f":1.00028,"r":0.00028},{"t":0.1698,"f":1.0007,"r":0.0007},{"t":0.1716,"f":0.9999,"r":-0.0001},{"t":0.1734,"f":1.00012,"r":0.00012},
{"t":-0.1731,"f":0.99984,"r":-0.00016},{"t":-0.1713,"f":1.00024,"r":0.00024},{"t":-0.1695,"f":0.99996,"r":-0.00004},{"t":-0.1677,"f":1.0003,"r":0.0003},{"t":-0.1659,"f":0.99974,"r":-0.00026},{"t":-0.1641,"f":1.0001,"r":0.0001},{"t":-0.1623,"f":1.00018,"r":0.00018},{"t":-0.1605,"f":0.99966,"r":-0.00034},{"t":-0.1587,"f":1.00006,"r":0.00006},{"t":-0.1569,"f":1.00028,"r":0.00028},{"t":-0.1551,"f":0.99988,"r":-0.00012},{"t":-0.1533,"f":1.0004,"r":0.0004},{"t":-0.1515,"f":0.9998,"r":-0.0002},{"t":-0.1497,"f":1.00002,"r":0.00002},{"t":-0.1479,"f":1.00022,"r":0.00022},{"t":-0.1461,"f":0.9997,"r":-0.0003},{"t":-0.1443,"f":1.00014,"r":0.00014},{"t":-0.1425,"f":0.99992,"r":-0.00008},{"t":-0.1407,"f":1.00034,"r":0.00034},{"t":-0.1389,"f":0.99982,"r":-0.00018},{"t":-0.1371,"f":1.00004,"r":0.00004},{"t":-0.1353,"f":1.00026,"r":0.00026},{"t":-0.1335,"f":0.99978,"r":-0.00022},{"t":-0.1317,"f":1.00012,"r":0.00012},{"t":-0.1299,"f":0.9996,"r":-0.0004},{"t":-0.1281,"f":1.0002,"r":0.0002},{"t":-0.1263,"f":1.00008,"r":0.00008},{"t":-0.1245,"f":0.99986,"r":-0.00014},{"t":-0.1227,"f":1.00032,"r":0.00032},{"t":-0.1209,"f":0.99994,"r":-0.00006},{"t":-0.1191,"f":1.00016,"r":0.00016},{"t":-0.1173,"f":0.99972,"r":-0.00028},{"t":-0.1155,"f":1.00024,"r":0.00024},{"t":-0.1137,"f":1,"r":0},{"t":-0.1119,"f":1.00036,"r":0.00036},{"t":-0.1101,"f":0.99976,"r":-0.00024},{"t":-0.1083,"f":1.0001,"r":0.0001},{"t":-0.1065,"f":0.9999,"r":-0.0001},{"t":-0.1047,"f":1.00028,"r":0.00028},{"t":-0.1029,"f":0.99968,"r":-0.00032},{"t":-0.1011,"f":1.00014,"r":0.00014},
{"t":-0.0993,"f":1.00018,"r":0.0002},{"t":-0.0975,"f":0.99978,"r":-0.00018},{"t":-0.0957,"f":1,"r":0.00008},{"t":-0.0939,"f":1.00016,"r":0.0003},{"t":-0.0921,"f":0.9995,"r":-0.00026},{"t":-0.0903,"f":0.99974,"r":0.00012},{"t":-0.0885,"f":0.99939,"r":-0.00006},{"t":-0.0867,"f":0.99948,"r":0.00024},{"t":-0.0849,"f":0.99868,"r":-0.00034},{"t":-0.0831,"f":0.99887,"r":0.00016},{"t":-0.0813,"f":0.99829,"r":-0.0001},{"t":-0.0795,"f":0.99833,"r":0.00028},{"t":-0.0777,"f":0.99745,"r":-0.00022},{"t":-0.0759,"f":0.99734,"r":0.00006},{"t":-0.0741,"f":0.99657,"r":-0.0003},{"t":-0.0723,"f":0.99669,"r":0.00018},{"t":-0.0705,"f":0.99608,"r":-0.00008},{"t":-0.0687,"f":0.9962,"r":0.00036},{"t":-0.0669,"f":0.99543,"r":-0.00014},{"t":-0.0651,"f":0.99557,"r":0.00022},{"t":-0.0633,"f":0.99488,"r":-0.00028},{"t":-0.0615,"f":0.99513,"r":0.0001},{"t":-0.0597,"f":0.99452,"r":-0.0004},{"t":-0.0579,"f":0.99512,"r":0.00026},{"t":-0.0561,"f":0.99482,"r":0.00004},{"t":-0.0543,"f":0.99452,"r":-0.0002},{"t":-0.0525,"f":0.99498,"r":0.00032},{"t":-0.0507,"f":0.99449,"r":-0.00012},{"t":-0.0489,"f":0.99474,"r":0.00018},{"t":-0.0471,"f":0.99416,"r":-0.00036},{"t":-0.0453,"f":0.99456,"r":0.00008},{"t":-0.0435,"f":0.9942,"r":-0.00024},{"t":-0.0417,"f":0.99469,"r":0.00028},{"t":-0.0399,"f":0.99432,"r":-0.00006},{"t":-0.0381,"f":0.99406,"r":-0.0003},{"t":-0.0363,"f":0.99447,"r":0.00014},{"t":-0.0345,"f":0.99387,"r":-0.00044},{"t":-0.0327,"f":0.99449,"r":0.0002},{"t":-0.0309,"f":0.9941,"r":-0.00016},{"t":-0.0291,"f":0.99458,"r":0.00034},{"t":-0.0273,"f":0.99397,"r":-0.00026},{"t":-0.0255,"f":0.99427,"r":0.00006},{"t":-0.0237,"f":0.99408,"r":-0.00012},{"t":-0.0219,"f":0.99442,"r":0.00024},{"t":-0.0201,"f":0.99385,"r":-0.00032},{"t":-0.0183,"f":0.99426,"r":0.0001},{"t":-0.0165,"f":0.99366,"r":-0.0005},{"t":-0.0147,"f":0.99431,"r":0.00016},{"t":-0.0129,"f":0.99392,"r":-0.00022},{"t":-0.0111,"f":0.99443,"r":0.0003},{"t":-0.0093,"f":0.99405,"r":-0.00008},{"t":-0.0075,"f":0.99375,"r":-0.00038},{"t":-0.0057,"f":0.99432,"r":0.0002},{"t":-0.0039,"f":0.99396,"r":-0.00016},{"t":-0.0021,"f":0.99448,"r":0.00036},{"t":-0.0003,"f":0.99384,"r":-0.00028},{"t":0.0015,"f":0.9942,"r":0.00008},{"t":0.0033,"f":0.99372,"r":-0.0004},{"t":0.0051,"f":0.99434,"r":0.00022},{"t":0.0069,"f":0.99403,"r":-0.0001},{"t":0.0087,"f":0.99441,"r":0.00028},{"t":0.0105,"f":0.99389,"r":-0.00024},{"t":0.0123,"f":0.99428,"r":0.00014},{"t":0.0141,"f":0.99409,"r":-0.00006},{"t":0.0159,"f":0.99447,"r":0.00032},{"t":0.0177,"f":0.99398,"r":-0.00018},{"t":0.0195,"f":0.99421,"r":0.00004},{"t":0.0213,"f":0.99384,"r":-0.00034},{"t":0.0231,"f":0.99444,"r":0.00024},{"t":0.0249,"f":0.99361,"r":-0.0006},{"t":0.0267,"f":0.99432,"r":0.0001},{"t":0.0285,"f":0.99404,"r":-0.0002},{"t":0.0303,"f":0.99463,"r":0.00038},{"t":0.0321,"f":0.99416,"r":-0.00012},{"t":0.0339,"f":0.99456,"r":0.00026},{"t":0.0357,"f":0.99402,"r":-0.0003},{"t":0.0375,"f":0.99451,"r":0.00016},{"t":0.0393,"f":0.99429,"r":-0.00008},{"t":0.0411,"f":0.9947,"r":0.0003},{"t":0.0429,"f":0.99421,"r":-0.00022},{"t":0.0447,"f":0.99459,"r":0.00012},{"t":0.0465,"f":0.99494,"r":0.00044},{"t":0.0483,"f":0.99439,"r":-0.00016},{"t":0.0501,"f":0.99479,"r":0.0002},{"t":0.0519,"f":0.99435,"r":-0.0003},{"t":0.0537,"f":0.99478,"r":0.00008},{"t":0.0555,"f":0.9951,"r":0.00034},{"t":0.0573,"f":0.99465,"r":-0.00018},{"t":0.0591,"f":0.99514,"r":0.00024},{"t":0.0609,"f":0.99489,"r":-0.0001},{"t":0.0627,"f":0.99546,"r":0.00036},{"t":0.0645,"f":0.99504,"r":-0.00024},{"t":0.0663,"f":0.99563,"r":0.00014},{"t":0.0681,"f":0.99568,"r":-0.00006},{"t":0.0699,"f":0.99633,"r":0.00028},{"t":0.0717,"f":0.99619,"r":-0.0002},{"t":0.0735,"f":0.99685,"r":0.0001},{"t":0.0753,"f":0.99682,"r":-0.00032},{"t":0.0771,"f":0.99778,"r":0.0002},{"t":0.0789,"f":0.99782,"r":-0.00014},{"t":0.0807,"f":0.99858,"r":0.0003},{"t":0.0825,"f":0.99853,"r":-0.00008},{"t":0.0843,"f":0.99908,"r":0.00018},{"t":0.0861,"f":0.9989,"r":-0.00026},{"t":0.0879,"f":0.99951,"r":0.00012},{"t":0.0897,"f":0.99953,"r":-0.00004},{"t":0.0915,"f":0.99997,"r":0.00026},{"t":0.0933,"f":0.99962,"r":-0.0002},{"t":0.0951,"f":0.99998,"r":0.00008},{"t":0.0969,"f":1.00029,"r":0.00034},{"t":0.0987,"f":0.99986,"r":-0.00012},
{"t":0.1005,"f":1.00017,"r":0.00018},{"t":0.1023,"f":0.99976,"r":-0.00024},{"t":0.1041,"f":1.00006,"r":0.00006},{"t":0.1059,"f":1.0003,"r":0.0003},{"t":0.1077,"f":0.99988,"r":-0.00012},{"t":0.1095,"f":0.99964,"r":-0.00036},{"t":0.1113,"f":1.00022,"r":0.00022},{"t":0.1131,"f":1.00002,"r":0.00002},{"t":0.1149,"f":1.00028,"r":0.00028},{"t":0.1167,"f":0.99982,"r":-0.00018},{"t":0.1185,"f":1.0001,"r":0.0001},{"t":0.1203,"f":0.9997,"r":-0.0003},{"t":0.1221,"f":1.0004,"r":0.0004},{"t":0.1239,"f":0.99992,"r":-0.00008},{"t":0.1257,"f":1.00016,"r":0.00016},{"t":0.1275,"f":0.99978,"r":-0.00022},{"t":0.1293,"f":1.00004,"r":0.00004},{"t":0.1311,"f":1.00034,"r":0.00034},{"t":0.1329,"f":0.99986,"r":-0.00014},{"t":0.1347,"f":1.0002,"r":0.0002},{"t":0.1365,"f":0.99972,"r":-0.00028},{"t":0.1383,"f":1.00008,"r":0.00008},{"t":0.1401,"f":1.00026,"r":0.00026},{"t":0.1419,"f":0.99996,"r":-0.00004},{"t":0.1437,"f":0.9996,"r":-0.0004},{"t":0.1455,"f":1.00014,"r":0.00014},{"t":0.1473,"f":1.0003,"r":0.0003},{"t":0.1491,"f":0.99984,"r":-0.00016},{"t":0.1509,"f":1.00012,"r":0.00012},{"t":0.1527,"f":0.99974,"r":-0.00026},{"t":0.1545,"f":1.00036,"r":0.00036},{"t":0.1563,"f":0.9999,"r":-0.0001},{"t":0.1581,"f":1.00022,"r":0.00022},{"t":0.1599,"f":0.9998,"r":-0.0002},{"t":0.1617,"f":1.00006,"r":0.00006},{"t":0.1635,"f":1.00044,"r":0.00044},{"t":0.1653,"f":0.99968,"r":-0.00032},{"t":0.1671,"f":1.00016,"r":0.00016},{"t":0.1689,"f":0.99992,"r":-0.00008},{"t":0.1707,"f":1.00028,"r":0.00028},{"t":0.1725,"f":0.99982,"r":-0.00018}
]
},
"spacing":48,
"resolve":{"scale":{"color":"independent"}},
"vconcat":[
{"bounds":"flush","spacing":0,"resolve":{"scale":{"color":"independent"}},"vconcat":[
 {"width":533,"height":329,"data":{"name":"b"},
  "layer":[
   {"mark":{"type":"tick","orient":"vertical","size":9,"thickness":1.4,"color":"#ff7f0e","opacity":0.5},
    "encoding":{
     "x":{"field":"t","type":"quantitative","scale":{"domain":[-0.181,0.18],"nice":false,"zero":false},"axis":{"orient":"bottom","values":[-0.16,-0.14,-0.12,-0.1,-0.08,-0.06,-0.04,-0.02,0,0.02,0.04,0.06,0.08,0.1,0.12,0.14,0.16],"labels":false,"title":null,"tickSize":-7.5,"tickWidth":{"condition":{"test":"indexof([-0.1,0,0.1],datum.value)>=0","value":2},"value":1.4},"tickDash":{"condition":{"test":"indexof([-0.1,0,0.1],datum.value)>=0","value":[]},"value":[4.5,40]}}},
     "y":{"field":"f","type":"quantitative","scale":{"domain":[0.99252,1.00103],"nice":false,"zero":false},"axis":{"orient":"left","values":[0.9928,0.9932,0.9936,0.994,0.9944,0.9948,0.9952,0.9956,0.996,0.9964,0.9968,0.9972,0.9976,0.998,0.9984,0.9988,0.9992,0.9996,1,1.0004,1.0008],"labelExpr":"indexof([0.994,0.996,0.998,1],datum.value)>=0?format(datum.value,'.3f'):''","labelPadding":17,"title":"Normalised flux","titleX":-87,"titleY":164.5,"titleAngle":-90,"titleBaseline":"alphabetic","titleAlign":"center","tickSize":-7.5,"tickWidth":{"condition":{"test":"indexof([0.994,0.996,0.998,1],datum.value)>=0","value":2},"value":1.4},"tickDash":{"condition":{"test":"indexof([0.994,0.996,0.998,1],datum.value)>=0","value":[]},"value":[4.5,40]}}}}},
   {"mark":{"type":"circle","size":24,"opacity":0.5},
    "encoding":{
     "x":{"field":"t","type":"quantitative","axis":{"orient":"top","values":[-0.16,-0.14,-0.12,-0.1,-0.08,-0.06,-0.04,-0.02,0,0.02,0.04,0.06,0.08,0.1,0.12,0.14,0.16],"labels":false,"title":null,"tickSize":-7.5,"tickWidth":{"condition":{"test":"indexof([-0.1,0,0.1],datum.value)>=0","value":2},"value":1.4},"tickDash":{"condition":{"test":"indexof([-0.1,0,0.1],datum.value)>=0","value":[]},"value":[4.5,40]}}},
     "y":{"field":"f","type":"quantitative","axis":{"orient":"right","values":[0.9928,0.9932,0.9936,0.994,0.9944,0.9948,0.9952,0.9956,0.996,0.9964,0.9968,0.9972,0.9976,0.998,0.9984,0.9988,0.9992,0.9996,1,1.0004,1.0008],"labels":false,"title":null,"tickSize":-7.5,"tickWidth":{"condition":{"test":"indexof([0.994,0.996,0.998,1],datum.value)>=0","value":2},"value":1.4},"tickDash":{"condition":{"test":"indexof([0.994,0.996,0.998,1],datum.value)>=0","value":[]},"value":[4.5,40]}}},
     "color":{"datum":"Kepler-9b","type":"nominal","scale":{"range":["#ff7f0e"]},"legend":{"orient":"none","legendX":197,"legendY":13,"title":null,"symbolType":"M0,-1L0,1M-0.17,0A0.17,0.17,0,1,0,0.17,0A0.17,0.17,0,1,0,-0.17,0Z","symbolSize":729,"symbolStrokeWidth":1.6,"symbolOpacity":1,"symbolStrokeColor":"#ff7f0e","labelOffset":27}}}},
   {"data":{"name":"mb"},"mark":{"type":"line","color":"black","strokeWidth":2.6,"interpolate":"monotone"},
    "encoding":{"x":{"field":"t","type":"quantitative","axis":null},"y":{"field":"m","type":"quantitative","axis":null}}}
  ],
  "resolve":{"axis":{"x":"independent","y":"independent"}}},
 {"width":533,"height":111,"data":{"name":"b"},
  "layer":[
   {"data":{"name":"z"},"mark":{"type":"rule","color":"black","strokeWidth":2},"encoding":{"y":{"field":"r","type":"quantitative","axis":null}}},
   {"mark":{"type":"tick","orient":"vertical","size":9,"thickness":1.4,"color":"#ff7f0e","opacity":0.5},
    "encoding":{
     "x":{"field":"t","type":"quantitative","scale":{"domain":[-0.181,0.18],"nice":false,"zero":false},"axis":{"orient":"bottom","values":[-0.16,-0.14,-0.12,-0.1,-0.08,-0.06,-0.04,-0.02,0,0.02,0.04,0.06,0.08,0.1,0.12,0.14,0.16],"labelExpr":"indexof([-0.1,0,0.1],datum.value)>=0?format(datum.value,'.1f'):''","labelPadding":17,"title":"Phased time [days]","titlePadding":6,"tickSize":-7.5,"tickWidth":{"condition":{"test":"indexof([-0.1,0,0.1],datum.value)>=0","value":2},"value":1.4},"tickDash":{"condition":{"test":"indexof([-0.1,0,0.1],datum.value)>=0","value":[]},"value":[4.5,40]}}},
     "y":{"field":"r","type":"quantitative","scale":{"domain":[-0.0015,0.0015],"nice":false,"zero":false},"axis":{"orient":"left","values":[-0.0014,-0.0012,-0.001,-0.0008,-0.0006,-0.0004,-0.0002,0,0.0002,0.0004,0.0006,0.0008,0.001,0.0012,0.0014],"labelExpr":"indexof([-0.001,0,0.001],datum.value)>=0?format(datum.value,'.3f'):''","labelPadding":17,"title":"Residuals","titleX":-87,"titleY":55.5,"titleAngle":-90,"titleBaseline":"alphabetic","titleAlign":"center","tickSize":-7.5,"tickWidth":{"condition":{"test":"indexof([-0.001,0,0.001],datum.value)>=0","value":2},"value":1.4},"tickDash":{"condition":{"test":"indexof([-0.001,0,0.001],datum.value)>=0","value":[]},"value":[4.5,40]}}}}},
   {"mark":{"type":"circle","size":24,"opacity":0.5,"color":"#ff7f0e"},
    "encoding":{
     "x":{"field":"t","type":"quantitative","axis":{"orient":"top","values":[-0.16,-0.14,-0.12,-0.1,-0.08,-0.06,-0.04,-0.02,0,0.02,0.04,0.06,0.08,0.1,0.12,0.14,0.16],"labels":false,"title":null,"tickSize":-7.5,"tickWidth":{"condition":{"test":"indexof([-0.1,0,0.1],datum.value)>=0","value":2},"value":1.4},"tickDash":{"condition":{"test":"indexof([-0.1,0,0.1],datum.value)>=0","value":[]},"value":[4.5,40]}}},
     "y":{"field":"r","type":"quantitative","axis":{"orient":"right","values":[-0.0014,-0.0012,-0.001,-0.0008,-0.0006,-0.0004,-0.0002,0,0.0002,0.0004,0.0006,0.0008,0.001,0.0012,0.0014],"labels":false,"title":null,"tickSize":-7.5,"tickWidth":{"condition":{"test":"indexof([-0.001,0,0.001],datum.value)>=0","value":2},"value":1.4},"tickDash":{"condition":{"test":"indexof([-0.001,0,0.001],datum.value)>=0","value":[]},"value":[4.5,40]}}}}}
  ],
  "resolve":{"axis":{"x":"independent","y":"independent"}}}
]},
{"bounds":"flush","spacing":0,"resolve":{"scale":{"color":"independent"}},"vconcat":[
 {"width":533,"height":329,"data":{"name":"c"},
  "layer":[
   {"mark":{"type":"tick","orient":"vertical","size":9,"thickness":1.4,"color":"#1f77b4","opacity":0.5},
    "encoding":{
     "x":{"field":"t","type":"quantitative","scale":{"domain":[-0.181,0.18],"nice":false,"zero":false},"axis":{"orient":"bottom","values":[-0.16,-0.14,-0.12,-0.1,-0.08,-0.06,-0.04,-0.02,0,0.02,0.04,0.06,0.08,0.1,0.12,0.14,0.16],"labels":false,"title":null,"tickSize":-7.5,"tickWidth":{"condition":{"test":"indexof([-0.1,0,0.1],datum.value)>=0","value":2},"value":1.4},"tickDash":{"condition":{"test":"indexof([-0.1,0,0.1],datum.value)>=0","value":[]},"value":[4.5,40]}}},
     "y":{"field":"f","type":"quantitative","scale":{"domain":[0.99252,1.00103],"nice":false,"zero":false},"axis":{"orient":"left","values":[0.9928,0.9932,0.9936,0.994,0.9944,0.9948,0.9952,0.9956,0.996,0.9964,0.9968,0.9972,0.9976,0.998,0.9984,0.9988,0.9992,0.9996,1,1.0004,1.0008],"labelExpr":"indexof([0.994,0.996,0.998,1],datum.value)>=0?format(datum.value,'.3f'):''","labelPadding":17,"title":"Normalised flux","titleX":-87,"titleY":164.5,"titleAngle":-90,"titleBaseline":"alphabetic","titleAlign":"center","tickSize":-7.5,"tickWidth":{"condition":{"test":"indexof([0.994,0.996,0.998,1],datum.value)>=0","value":2},"value":1.4},"tickDash":{"condition":{"test":"indexof([0.994,0.996,0.998,1],datum.value)>=0","value":[]},"value":[4.5,40]}}}}},
   {"mark":{"type":"circle","size":24,"opacity":0.5},
    "encoding":{
     "x":{"field":"t","type":"quantitative","axis":{"orient":"top","values":[-0.16,-0.14,-0.12,-0.1,-0.08,-0.06,-0.04,-0.02,0,0.02,0.04,0.06,0.08,0.1,0.12,0.14,0.16],"labels":false,"title":null,"tickSize":-7.5,"tickWidth":{"condition":{"test":"indexof([-0.1,0,0.1],datum.value)>=0","value":2},"value":1.4},"tickDash":{"condition":{"test":"indexof([-0.1,0,0.1],datum.value)>=0","value":[]},"value":[4.5,40]}}},
     "y":{"field":"f","type":"quantitative","axis":{"orient":"right","values":[0.9928,0.9932,0.9936,0.994,0.9944,0.9948,0.9952,0.9956,0.996,0.9964,0.9968,0.9972,0.9976,0.998,0.9984,0.9988,0.9992,0.9996,1,1.0004,1.0008],"labels":false,"title":null,"tickSize":-7.5,"tickWidth":{"condition":{"test":"indexof([0.994,0.996,0.998,1],datum.value)>=0","value":2},"value":1.4},"tickDash":{"condition":{"test":"indexof([0.994,0.996,0.998,1],datum.value)>=0","value":[]},"value":[4.5,40]}}},
     "color":{"datum":"Kepler-9c","type":"nominal","scale":{"range":["#1f77b4"]},"legend":{"orient":"none","legendX":197,"legendY":13,"title":null,"symbolType":"M0,-1L0,1M-0.17,0A0.17,0.17,0,1,0,0.17,0A0.17,0.17,0,1,0,-0.17,0Z","symbolSize":729,"symbolStrokeWidth":1.6,"symbolOpacity":1,"symbolStrokeColor":"#1f77b4","labelOffset":27}}}},
   {"data":{"name":"mc"},"mark":{"type":"line","color":"black","strokeWidth":2.6,"interpolate":"monotone"},
    "encoding":{"x":{"field":"t","type":"quantitative","axis":null},"y":{"field":"m","type":"quantitative","axis":null}}},
   {"data":{"name":"mc"},"transform":[{"filter":"abs(datum.t)<=0.101"}],"mark":{"type":"line","color":"black","strokeWidth":8,"opacity":0.85,"interpolate":"monotone"},
    "encoding":{"x":{"field":"t","type":"quantitative","axis":null},"y":{"field":"m","type":"quantitative","axis":null}}},
   {"data":{"name":"mc"},"transform":[{"filter":"abs(datum.t)<=0.101"}],"mark":{"type":"line","color":"#8a8a8a","strokeWidth":4.5,"opacity":0.8,"interpolate":"monotone"},
    "encoding":{"x":{"field":"t","type":"quantitative","axis":null},"y":{"field":"m","type":"quantitative","axis":null}}}
  ],
  "resolve":{"axis":{"x":"independent","y":"independent"}}},
 {"width":533,"height":111,"data":{"name":"c"},
  "layer":[
   {"data":{"name":"z"},"mark":{"type":"rule","color":"black","strokeWidth":2},"encoding":{"y":{"field":"r","type":"quantitative","axis":null}}},
   {"mark":{"type":"tick","orient":"vertical","size":9,"thickness":1.4,"color":"#1f77b4","opacity":0.5},
    "encoding":{
     "x":{"field":"t","type":"quantitative","scale":{"domain":[-0.181,0.18],"nice":false,"zero":false},"axis":{"orient":"bottom","values":[-0.16,-0.14,-0.12,-0.1,-0.08,-0.06,-0.04,-0.02,0,0.02,0.04,0.06,0.08,0.1,0.12,0.14,0.16],"labelExpr":"indexof([-0.1,0,0.1],datum.value)>=0?format(datum.value,'.1f'):''","labelPadding":17,"title":"Phased time [days]","titlePadding":6,"tickSize":-7.5,"tickWidth":{"condition":{"test":"indexof([-0.1,0,0.1],datum.value)>=0","value":2},"value":1.4},"tickDash":{"condition":{"test":"indexof([-0.1,0,0.1],datum.value)>=0","value":[]},"value":[4.5,40]}}},
     "y":{"field":"r","type":"quantitative","scale":{"domain":[-0.0015,0.0015],"nice":false,"zero":false},"axis":{"orient":"left","values":[-0.0014,-0.0012,-0.001,-0.0008,-0.0006,-0.0004,-0.0002,0,0.0002,0.0004,0.0006,0.0008,0.001,0.0012,0.0014],"labelExpr":"indexof([-0.001,0,0.001],datum.value)>=0?format(datum.value,'.3f'):''","labelPadding":17,"title":"Residuals","titleX":-87,"titleY":55.5,"titleAngle":-90,"titleBaseline":"alphabetic","titleAlign":"center","tickSize":-7.5,"tickWidth":{"condition":{"test":"indexof([-0.001,0,0.001],datum.value)>=0","value":2},"value":1.4},"tickDash":{"condition":{"test":"indexof([-0.001,0,0.001],datum.value)>=0","value":[]},"value":[4.5,40]}}}}},
   {"mark":{"type":"circle","size":24,"opacity":0.5,"color":"#1f77b4"},
    "encoding":{
     "x":{"field":"t","type":"quantitative","axis":{"orient":"top","values":[-0.16,-0.14,-0.12,-0.1,-0.08,-0.06,-0.04,-0.02,0,0.02,0.04,0.06,0.08,0.1,0.12,0.14,0.16],"labels":false,"title":null,"tickSize":-7.5,"tickWidth":{"condition":{"test":"indexof([-0.1,0,0.1],datum.value)>=0","value":2},"value":1.4},"tickDash":{"condition":{"test":"indexof([-0.1,0,0.1],datum.value)>=0","value":[]},"value":[4.5,40]}}},
     "y":{"field":"r","type":"quantitative","axis":{"orient":"right","values":[-0.0014,-0.0012,-0.001,-0.0008,-0.0006,-0.0004,-0.0002,0,0.0002,0.0004,0.0006,0.0008,0.001,0.0012,0.0014],"labels":false,"title":null,"tickSize":-7.5,"tickWidth":{"condition":{"test":"indexof([-0.001,0,0.001],datum.value)>=0","value":2},"value":1.4},"tickDash":{"condition":{"test":"indexof([-0.001,0,0.001],datum.value)>=0","value":[]},"value":[4.5,40]}}}}}
  ],
  "resolve":{"axis":{"x":"independent","y":"independent"}}}
]}
]
}
